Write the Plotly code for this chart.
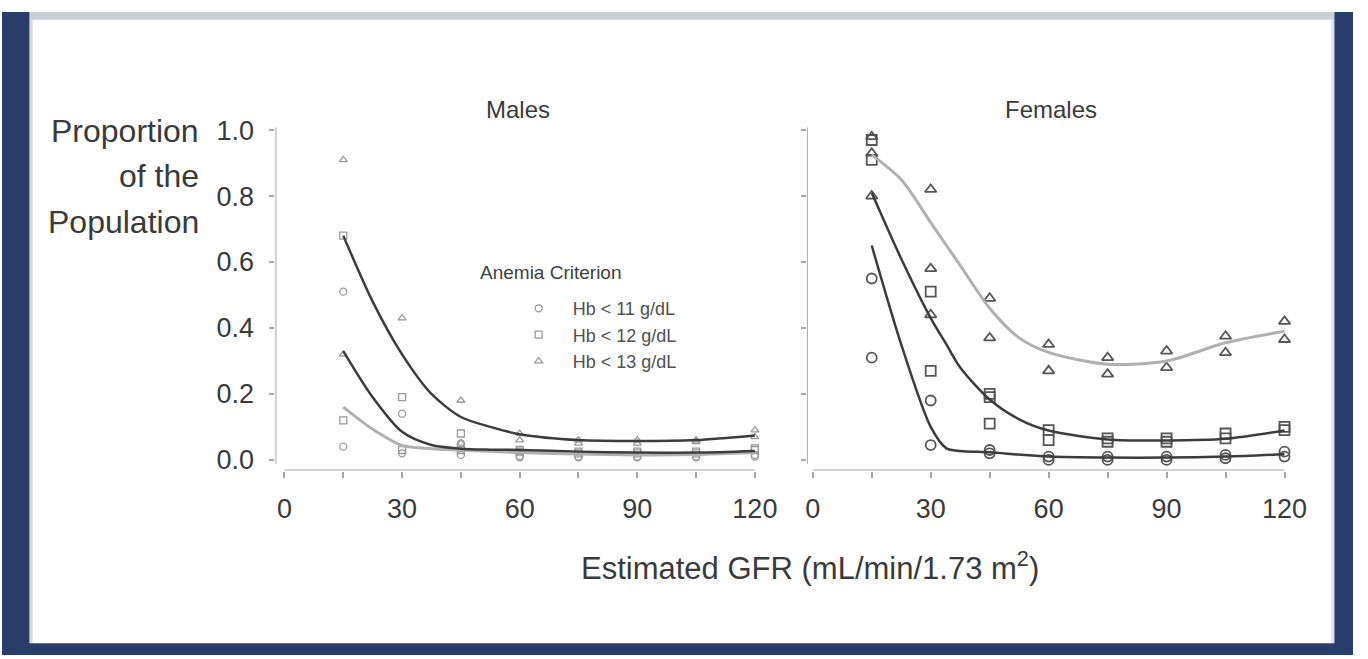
import plotly.graph_objects as go

# ---------------- data ----------------
criteria = ["Hb < 11 g/dL", "Hb < 12 g/dL", "Hb < 13 g/dL"]
x_ticks = [0, 30, 60, 90, 120]
y_ticks = [0.0, 0.2, 0.4, 0.6, 0.8, 1.0]

# Males - observed points
male_ci_x = [15, 15, 30, 30, 45, 45, 60, 60, 75, 75, 90, 90, 105, 105, 120, 120]
male_ci_y = [0.51, 0.04, 0.14, 0.02, 0.05, 0.015, 0.012, 0.008, 0.01, 0.008, 0.01, 0.008, 0.01, 0.008, 0.015, 0.01]
male_sq_x = [15, 15, 30, 30, 45, 45, 60, 60, 75, 75, 90, 90, 105, 105, 120, 120]
male_sq_y = [0.68, 0.12, 0.19, 0.03, 0.08, 0.03, 0.03, 0.025, 0.025, 0.02, 0.025, 0.02, 0.025, 0.02, 0.035, 0.03]
male_tr_x = [15, 15, 30, 45, 45, 60, 60, 75, 75, 90, 90, 105, 105, 120, 120]
male_tr_y = [0.91, 0.32, 0.43, 0.18, 0.05, 0.08, 0.06, 0.06, 0.05, 0.06, 0.05, 0.06, 0.055, 0.09, 0.07]

# Males - fitted curves
male_curve_x = [15, 22.5, 30, 37.5, 45, 52.5, 60, 75, 90, 105, 120]
male_c_top = [0.68, 0.48, 0.32, 0.20, 0.13, 0.10, 0.078, 0.06, 0.057, 0.06, 0.074]
male_c_mid = [0.33, 0.19, 0.085, 0.045, 0.034, 0.031, 0.03, 0.025, 0.022, 0.022, 0.027]
male_c_low = [0.16, 0.093, 0.044, 0.034, 0.03, 0.026, 0.022, 0.018, 0.015, 0.016, 0.022]

# Females - observed points
fem_ci_x = [15, 15, 30, 30, 45, 45, 60, 60, 75, 75, 90, 90, 105, 105, 120, 120]
fem_ci_y = [0.55, 0.31, 0.18, 0.045, 0.03, 0.02, 0.01, 0.0, 0.01, 0.0, 0.01, 0.0, 0.015, 0.005, 0.025, 0.01]
fem_sq_x = [15, 15, 30, 30, 45, 45, 45, 60, 60, 75, 75, 90, 90, 105, 105, 120, 120]
fem_sq_y = [0.97, 0.91, 0.51, 0.27, 0.20, 0.19, 0.11, 0.09, 0.06, 0.065, 0.055, 0.065, 0.055, 0.08, 0.065, 0.10, 0.09]
fem_tr_x = [15, 15, 15, 30, 30, 30, 45, 45, 60, 60, 75, 75, 90, 90, 105, 105, 120, 120]
fem_tr_y = [0.98, 0.93, 0.80, 0.82, 0.58, 0.44, 0.49, 0.37, 0.35, 0.27, 0.31, 0.26, 0.33, 0.28, 0.375, 0.325, 0.42, 0.365]

# Females - fitted curves
fem_curve_x = [15, 22.5, 30, 34, 37.5, 45, 52.5, 60, 75, 90, 105, 120]
fem_c_top = [0.925, 0.85, 0.72, 0.65, 0.59, 0.46, 0.37, 0.326, 0.29, 0.30, 0.355, 0.39]
fem_c_mid = [0.81, 0.61, 0.43, 0.35, 0.28, 0.183, 0.123, 0.089, 0.062, 0.059, 0.064, 0.089]
fem_c_low = [0.65, 0.35, 0.10, 0.035, 0.027, 0.023, 0.016, 0.01, 0.007, 0.007, 0.01, 0.017]

# ---------------- styling ----------------
W, H = 1368, 659
FONT = "Liberation Sans, Arial, Helvetica, sans-serif"
TXT = "#3a3a3a"
AX = "#a8a8a8"
DARK = "#3c3c3c"
LIGHT = "#b0b0b0"
M_MALE = "#9a9a9a"
M_FEM = "#555555"


def px_x(p):
    return p / W


def px_y(p):
    return (H - p) / H


fig = go.Figure()

symbols = ["circle-open", "square-open", "triangle-up-open"]

# male markers (also used for the legend)
for (xs, ys), sym, name in zip([(male_ci_x, male_ci_y), (male_sq_x, male_sq_y), (male_tr_x, male_tr_y)], symbols, criteria):
    fig.add_trace(go.Scatter(x=xs, y=ys, mode="markers", name=name, xaxis="x", yaxis="y",
                             marker=dict(symbol=sym, size=7, color=M_MALE, line=dict(width=1.3, color=M_MALE)),
                             showlegend=True, cliponaxis=False))

# male curves
for ys, col, w in [(male_c_low, LIGHT, 3), (male_c_mid, DARK, 2.5), (male_c_top, DARK, 2.5)]:
    fig.add_trace(go.Scatter(x=male_curve_x, y=ys, mode="lines", xaxis="x", yaxis="y",
                             line=dict(color=col, width=w, shape="spline", smoothing=0.8),
                             showlegend=False, hoverinfo="skip"))

# female markers
for (xs, ys), sym in zip([(fem_ci_x, fem_ci_y), (fem_sq_x, fem_sq_y), (fem_tr_x, fem_tr_y)], symbols):
    fig.add_trace(go.Scatter(x=xs, y=ys, mode="markers", xaxis="x2", yaxis="y2",
                             marker=dict(symbol=sym, size=10, color=M_FEM, line=dict(width=1.8, color=M_FEM)),
                             showlegend=False, cliponaxis=False))

# female curves
for ys, col, w in [(fem_c_top, LIGHT, 3), (fem_c_mid, DARK, 2.5), (fem_c_low, DARK, 2.5)]:
    fig.add_trace(go.Scatter(x=fem_curve_x, y=ys, mode="lines", xaxis="x2", yaxis="y2",
                             line=dict(color=col, width=w, shape="spline", smoothing=0.8),
                             showlegend=False, hoverinfo="skip"))

# y: 1.0 at 121 px, 0.0 at 459 px (338 px per unit); x-axis line at 470 px
YR = [-0.0325, 1.009]
XR1 = [-2.3, 122]
XR2 = [-1.5, 122]
ydom = [px_y(470.0), px_y(118.0)]

xcommon = dict(tickmode="array", tickvals=x_ticks, ticktext=[str(v) for v in x_ticks],
               ticks="outside", ticklen=6, tickwidth=1.5, tickcolor=AX,
               minor=dict(dtick=15, tick0=0, ticks="outside", ticklen=6, tickwidth=1.5, tickcolor=AX),
               showline=False, showgrid=False, zeroline=False,
               tickfont=dict(family=FONT, size=27, color=TXT), ticklabelstandoff=8, fixedrange=True)
ycommon = dict(range=YR, domain=ydom, tickmode="array", tickvals=y_ticks,
               ticks="outside", ticklen=5, tickwidth=1.5, tickcolor=AX,
               showline=False, showgrid=False, zeroline=False, fixedrange=True)

fig.update_layout(
    width=W, height=H, margin=dict(l=0, r=0, t=0, b=0),
    paper_bgcolor="white", plot_bgcolor="white",
    font=dict(family=FONT, color=TXT),
    xaxis=dict(domain=[px_x(276.9), px_x(770.3)], range=XR1, anchor="y", **xcommon),
    xaxis2=dict(domain=[px_x(815.0), px_x(1306.6)], range=XR2, anchor="y2", **xcommon),
    yaxis=dict(anchor="x", ticktext=[f"{v:.1f}" for v in y_ticks],
               tickfont=dict(family=FONT, size=27, color=TXT), ticklabelstandoff=10, **ycommon),
    yaxis2=dict(anchor="x2", showticklabels=False, **ycommon),
    legend=dict(x=px_x(509), y=px_y(285), xanchor="left", yanchor="top", itemwidth=58,
                bgcolor="rgba(0,0,0,0)", font=dict(family=FONT, size=18, color="#505050"),
                itemclick=False, itemdoubleclick=False),
)

shapes = []
# axis lines (detached style)
for xr, yr, xmin in [("x", "y", XR1[0]), ("x2", "y2", XR2[0])]:
    shapes.append(dict(type="line", xref=xr, yref=yr, x0=0, x1=120, y0=YR[0], y1=YR[0],
                       line=dict(color=AX, width=2)))
    shapes.append(dict(type="line", xref=xr, yref=yr, x0=xmin, x1=xmin, y0=-0.012, y1=YR[1],
                       line=dict(color=AX, width=2)))

# frame
BLUE = "#2a3e6c"


def frame_rect(x0, x1, y0, y1, color):
    return dict(type="rect", xref="paper", yref="paper",
                x0=px_x(x0), x1=px_x(x1), y0=px_y(y1), y1=px_y(y0),
                fillcolor=color, line_width=0, layer="above")


shapes += [
    frame_rect(0, 28, 0, H, BLUE),
    frame_rect(28, 31, 8, 647, "#d3d8e2"),
    frame_rect(1349, W, 0, H, BLUE),
    frame_rect(1346, 1349, 8, 647, "#dde1e8"),
    frame_rect(0, W, 647, H, BLUE),
    frame_rect(28, 1349, 0, 8, "#c9ced7"),
]
fig.update_layout(shapes=shapes)

ann = []
for txt, yc in [("Proportion", 122), ("of the", 168), ("Population", 215)]:
    ann.append(dict(text=txt, xref="paper", yref="paper", x=px_x(201), y=px_y(yc),
                    xanchor="right", yanchor="middle", showarrow=False,
                    font=dict(family=FONT, size=32, color=TXT)))
ann.append(dict(text="Males", xref="paper", yref="paper", x=px_x(522), y=px_y(100),
                xanchor="center", yanchor="middle", showarrow=False, font=dict(family=FONT, size=24, color=TXT)))
ann.append(dict(text="Females", xref="paper", yref="paper", x=px_x(1062), y=px_y(100),
                xanchor="center", yanchor="middle", showarrow=False, font=dict(family=FONT, size=24, color=TXT)))
ann.append(dict(text="Anemia Criterion", xref="paper", yref="paper", x=px_x(482), y=px_y(267),
                xanchor="left", yanchor="middle", showarrow=False, font=dict(family=FONT, size=19, color="#404040")))
ann.append(dict(text="Estimated GFR (mL/min/1.73 m<sup>2</sup>)", xref="paper", yref="paper",
                x=px_x(818), y=px_y(568), xanchor="center", yanchor="middle", showarrow=False,
                font=dict(family=FONT, size=31, color=TXT)))
fig.update_layout(annotations=ann)

fig.write_html("out.html")
